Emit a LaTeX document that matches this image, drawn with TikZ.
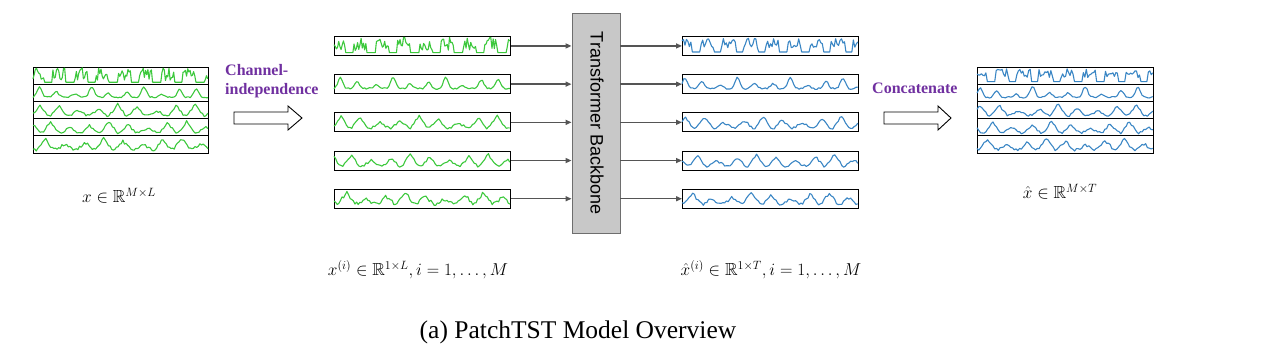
\documentclass[tikz,border=0pt]{standalone}
\usepackage{amsmath,amssymb}
\usepackage{fontspec}
\newfontfamily\timesf{Liberation Serif}
\newfontfamily\arialf{Liberation Sans}
\usetikzlibrary{arrows.meta}
\definecolor{sigG}{HTML}{3CC83C}
\definecolor{sigB}{HTML}{3A86C4}
\definecolor{purp}{HTML}{7030A0}
\definecolor{conn}{HTML}{555555}
\definecolor{bbfill}{HTML}{C8C8C8}
\definecolor{bbdraw}{HTML}{6E6E6E}
% #1 x0, #2 width, #3 y bottom, #4 height, #5 samples, #6 style, #7 expression in \t (0..1)
\newcommand\sigplot[7]{\draw[#6] plot[domain=0:1,samples=#5,variable=\t] ({#1+#2*\t},{#3-#4*(#7)});}
\begin{document}
\begin{tikzpicture}[x=1pt,y=-1pt,
  declare function={
    fa(\u,\p)=0.08+(sin(\u*2900+\p)>-0.3)*(0.1+0.8*rnd);
    fb(\u,\p,\n)=0.16+\n*rnd+0.68*exp(-1*pow((mod(\u*10+\p,1)-0.5)*5,2))*(0.6+0.4*sin(\u*1300+\p*70));
    fc(\u,\p,\n)=0.08+\n*rnd+0.72*max(0,1-abs(mod(\u*9+\p,1)-0.45)*2.4)*(0.7+0.3*sin(\u*900+\p*90));
  },
  boxst/.style={draw=black,line width=0.9pt,inner sep=0pt,minimum width=176pt,minimum height=19pt,anchor=north west},
  gsig/.style={sigG,line width=1.1pt,line join=round},
  bsig/.style={sigB,line width=1.1pt,line join=round},
  conn/.style={draw=conn,line width=1.4pt,-{Triangle[length=6pt,width=5pt]}},
  hollow/.style={draw=black,line width=0.9pt,fill=white},
  purplab/.style={text=purp,font=\timesf\bfseries\fontsize{16}{19}\selectfont,inner sep=0pt},
  mathlab/.style={font=\fontsize{17.5}{20}\selectfont,inner sep=0pt}
]
\useasboundingbox (0,0) rectangle (1262,361);
\pgfmathsetseed{7}
% ---------- left stack ----------
\node[draw=black,line width=0.9pt,inner sep=0pt,minimum width=175pt,minimum height=86pt,anchor=north west] (xin) at (33,67) {};
\foreach \k in {1,2,3,4}{\draw[black,line width=0.9pt] (33,{67+17.2*\k}) -- (208,{67+17.2*\k});}
\sigplot{33}{175}{83.5}{16}{150}{gsig}{fa(\t,20)}
\sigplot{33}{175}{100.7}{16}{110}{gsig}{fb(\t,0.15,0.1)}
\sigplot{33}{175}{117.9}{16}{100}{gsig}{fc(\t,0.1,0.15)}
\sigplot{33}{175}{135.1}{16}{100}{gsig}{fc(\t,0.55,0.15)}
\sigplot{33}{175}{152.3}{16}{110}{gsig}{fc(\t,0.8,0.2)}
\node[mathlab] (xlab) at (119,196) {$x\in\mathbb{R}^{M\times L}$};
% ---------- channel independence ----------
\node[purplab,anchor=west,align=left] (cilab) at (225,81) {Channel-\\independence};
\draw[hollow] (234,112) -- (288,112) -- (288,106) -- (302,118) -- (288,130) -- (288,124) -- (234,124) -- cycle;
% ---------- backbone ----------
\node[draw=bbdraw,fill=bbfill,line width=0.9pt,minimum width=48pt,minimum height=220pt,inner sep=0pt] (bb) at (596,123) {};
\node[rotate=-90,font=\arialf\fontsize{18}{20}\selectfont,inner sep=0pt] (bbtxt) at (597,123) {Transformer Backbone};
% ---------- green boxes ----------
\foreach \k/\nm in {0/g1,1/g2,2/g3,3/g4,4/g5}{\node[boxst] (\nm) at (334,{36+38.2*\k}) {};}
\sigplot{334}{176}{54}{17}{150}{gsig}{fa(\t,20)}
\sigplot{334}{176}{92.2}{17}{110}{gsig}{fb(\t,0.15,0.1)}
\sigplot{334}{176}{130.4}{17}{100}{gsig}{fc(\t,0.1,0.15)}
\sigplot{334}{176}{168.6}{17}{100}{gsig}{fc(\t,0.55,0.15)}
\sigplot{334}{176}{206.8}{17}{110}{gsig}{fc(\t,0.8,0.2)}
% ---------- blue boxes ----------
\foreach \k/\nm in {0/b1,1/b2,2/b3,3/b4,4/b5}{\node[boxst] (\nm) at (682,{36+38.2*\k}) {};}
\sigplot{682}{176}{54}{17}{120}{bsig}{0.12+(sin(\t*2900+40)>-0.4)*(0.25+0.55*rnd)}
\sigplot{682}{176}{92.2}{17}{100}{bsig}{fb(\t,0.35,0.1)}
\sigplot{682}{176}{130.4}{17}{100}{bsig}{fc(\t,0.3,0.14)}
\sigplot{682}{176}{168.6}{17}{100}{bsig}{fc(\t,0.65,0.14)}
\sigplot{682}{176}{206.8}{17}{100}{bsig}{fc(\t,0.9,0.17)}
% ---------- connectors ----------
\foreach \nm in {g1,g2,g3,g4,g5}{\draw[conn] (\nm.east) -- (bb.west |- \nm.east);}
\foreach \nm in {b1,b2,b3,b4,b5}{\draw[conn] (bb.east |- \nm.west) -- (\nm.west);}
\node[mathlab] (xilab) at (418,270) {$x^{(i)}\in\mathbb{R}^{1\times L}, i=1,\ldots,M$};
\node[mathlab] (xhilab) at (771,270) {$\hat{x}^{(i)}\in\mathbb{R}^{1\times T}, i=1,\ldots,M$};
% ---------- concatenate ----------
\node[purplab,anchor=west] (catlab) at (872,88) {Concatenate};
\draw[hollow] (884,112) -- (938,112) -- (938,106) -- (951,118) -- (938,130) -- (938,124) -- (884,124) -- cycle;
% ---------- right stack ----------
\node[draw=black,line width=0.9pt,inner sep=0pt,minimum width=176pt,minimum height=86pt,anchor=north west] (xout) at (977,67) {};
\foreach \k in {1,2,3,4}{\draw[black,line width=0.9pt] (977,{67+17.2*\k}) -- (1153,{67+17.2*\k});}
\sigplot{977}{176}{83.5}{16}{120}{bsig}{0.12+(sin(\t*2900+40)>-0.4)*(0.25+0.55*rnd)}
\sigplot{977}{176}{100.7}{16}{100}{bsig}{fb(\t,0.35,0.1)}
\sigplot{977}{176}{117.9}{16}{100}{bsig}{fc(\t,0.3,0.14)}
\sigplot{977}{176}{135.1}{16}{100}{bsig}{fc(\t,0.65,0.14)}
\sigplot{977}{176}{152.3}{16}{100}{bsig}{fc(\t,0.9,0.17)}
\node[mathlab] (xhlab) at (1060,192) {$\hat{x}\in\mathbb{R}^{M\times T}$};
% ---------- caption ----------
\node[font=\timesf\fontsize{25.5}{30}\selectfont,inner sep=0pt] (cap) at (578,332) {(a) PatchTST Model Overview};
\end{tikzpicture}
\end{document}
